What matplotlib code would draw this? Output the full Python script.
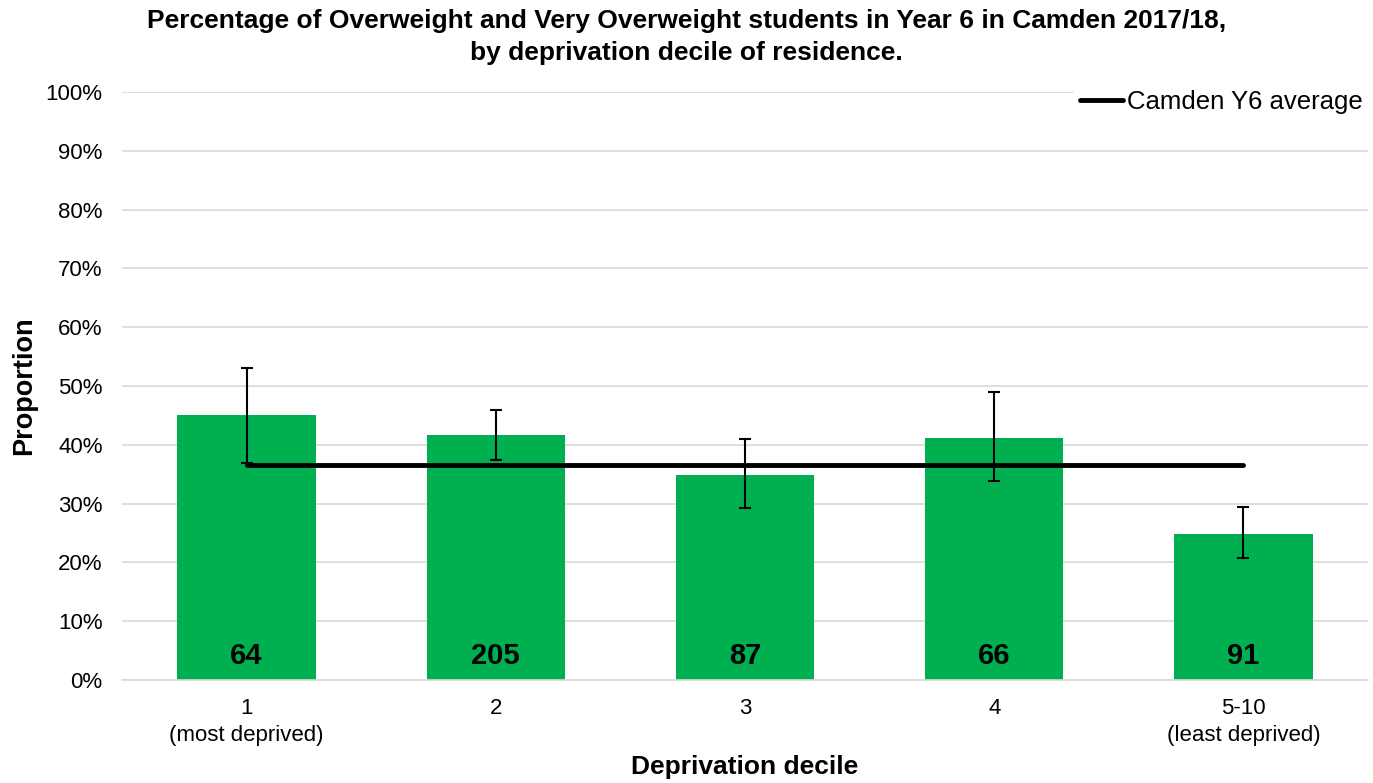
import matplotlib.pyplot as plt
import numpy as np

plt.rcParams['font.family'] = ['Liberation Sans', 'DejaVu Sans']

# data
deciles = ['1\n(most deprived)', '2', '3', '4', '5-10\n(least deprived)']
proportion = [45.0, 41.6, 34.8, 41.2, 24.8]
ci_lower = [36.9, 37.5, 29.2, 33.9, 20.8]
ci_upper = [53.1, 46.0, 41.0, 48.9, 29.5]
counts = [64, 205, 87, 66, 91]
camden_avg = [36.6, 36.6, 36.6, 36.6, 36.6]

fig = plt.figure(figsize=(13.73, 7.83), dpi=100)
ax = fig.add_axes([122 / 1373, 1 - 680 / 783, (1368 - 122) / 1373, (680 - 92) / 783])

x = np.arange(len(deciles))
prop = np.array(proportion)
err = [prop - np.array(ci_lower), np.array(ci_upper) - prop]

ax.bar(x, prop, width=0.555, color='#00b050', zorder=2)
ax.errorbar(x, prop, yerr=err, fmt='none', ecolor='black', elinewidth=1.5,
            capsize=4, capthick=1.5, zorder=3)
ax.plot(x, camden_avg, color='black', lw=3.5, solid_capstyle='round',
        zorder=4, label='Camden Y6 average')

for xi, c in zip(x, counts):
    ax.text(xi, 4.1, str(c), ha='center', va='center', fontsize=21,
            fontweight='bold', zorder=5)

ax.set_xlim(-0.5, 4.5)
ax.set_ylim(0, 100)
ax.set_yticks(np.arange(0, 101, 10))
ax.set_yticklabels([f'{v}%' for v in range(0, 101, 10)], fontsize=16)
ax.set_xticks(x)
ax.set_xticklabels(deciles, fontsize=16, linespacing=1.35)
ax.tick_params(axis='x', length=0, pad=13)
ax.tick_params(axis='y', length=0, pad=14)

ax.grid(axis='y', color='#d9d9d9', lw=1.2, zorder=0)
ax.set_axisbelow(True)
for s in ['top', 'right', 'left']:
    ax.spines[s].set_visible(False)
ax.spines['bottom'].set_color('#d9d9d9')
ax.spines['bottom'].set_linewidth(1.2)

ax.set_ylabel('Proportion', fontsize=19.5, fontweight='bold', labelpad=6)
ax.set_xlabel('Deprivation decile', fontsize=19, fontweight='bold', labelpad=7)

fig.suptitle('Percentage of Overweight and Very Overweight students in Year 6 in Camden 2017/18,\n'
             'by deprivation decile of residence.',
             fontsize=19, fontweight='bold', x=0.5, y=0.988, va='top', ha='center',
             linespacing=1.4)

leg = ax.legend(loc='upper right', bbox_to_anchor=(1.0, 1.012), fontsize=18.5,
                frameon=True, handlelength=1.7, handletextpad=0.15, borderpad=0.2,
                borderaxespad=0.0)
leg.get_frame().set_edgecolor('none')
leg.get_frame().set_facecolor('white')
leg.get_frame().set_alpha(1)

fig.savefig('out.png', dpi=100)
